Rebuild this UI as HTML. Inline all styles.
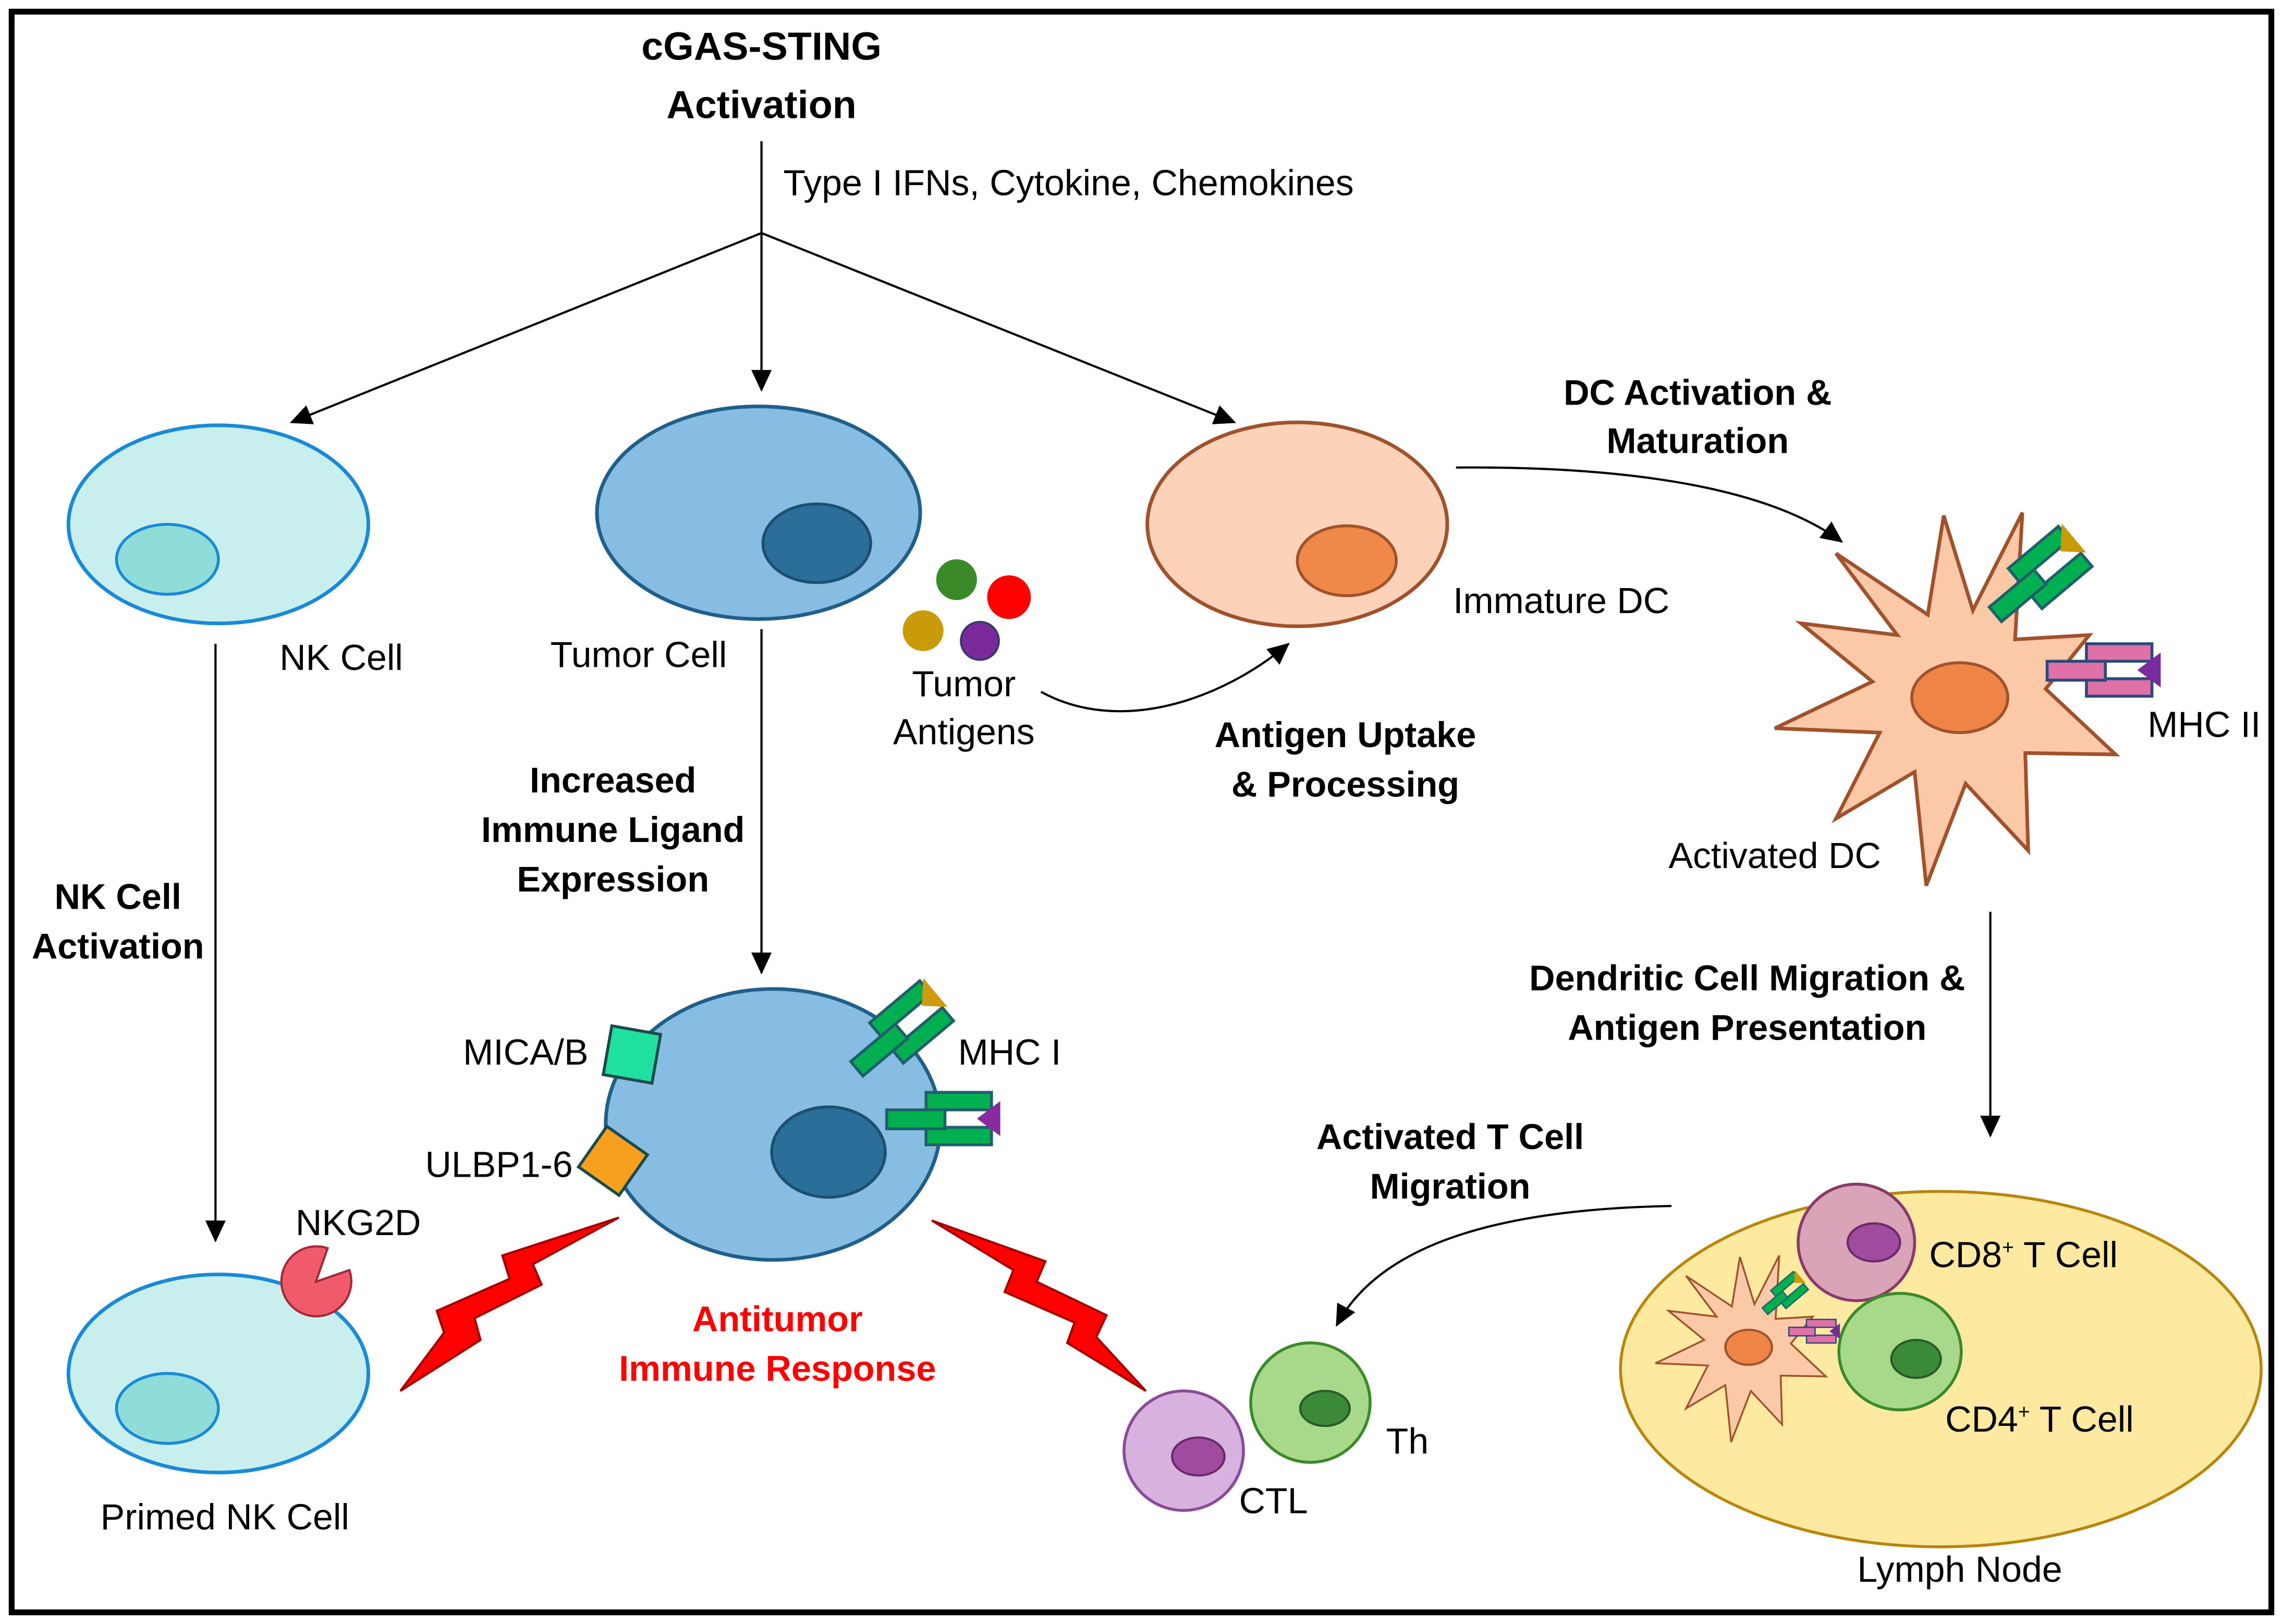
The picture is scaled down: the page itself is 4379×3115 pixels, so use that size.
<!DOCTYPE html>
<html><head><meta charset="utf-8"><style>html,body{margin:0;padding:0;background:#fff}svg{display:block}</style></head>
<body>
<svg width="4379" height="3115" viewBox="0 0 1568 1115" preserveAspectRatio="none" xmlns="http://www.w3.org/2000/svg" font-family="Liberation Sans, sans-serif">
<defs>
<marker id="ar2" markerWidth="16" markerHeight="16" refX="14" refY="8" orient="auto" markerUnits="userSpaceOnUse"><path d="M0,1 L15,8 L0,15 z" fill="#000"/></marker>
<g id="mhcg"><rect x="-25" y="-18" width="45" height="12" fill="#00b050" stroke="#1f5f6a" stroke-width="2"/><rect x="-25" y="6" width="45" height="12" fill="#00b050" stroke="#1f5f6a" stroke-width="2"/><rect x="-52" y="-6" width="40" height="13" fill="#00b050" stroke="#1f5f6a" stroke-width="2"/></g>
<g id="mhcp"><rect x="-25" y="-18" width="45" height="12" fill="#e070a8" stroke="#2a4a7a" stroke-width="2"/><rect x="-25" y="6" width="45" height="12" fill="#e070a8" stroke="#2a4a7a" stroke-width="2"/><rect x="-52" y="-6" width="40" height="13" fill="#e070a8" stroke="#2a4a7a" stroke-width="2"/></g>
<polygon id="star" points="44,-126 39,-39 90,-42 60,-5 108,40 46,39 48,106 5,60 -22,130 -30,52 -84,84 -54,25 -126,22 -59,-10 -108,-50 -42,-42 -84,-98 -21,-56 -10,-124 10,-59" fill="#fbc8a8" stroke="#a0522d" stroke-width="2.5"/>
</defs>
<rect x="8" y="8" width="1552" height="1099" fill="#fff" stroke="#000" stroke-width="4"/>
<g font-size="25">
<text x="523" y="41" text-anchor="middle" font-weight="bold" font-size="27">cGAS-STING</text>
<text x="523" y="81" text-anchor="middle" font-weight="bold" font-size="27">Activation</text>
<line x1="523" y1="97" x2="523" y2="160" stroke="#000" stroke-width="1.5"/>
<text x="538" y="134">Type I IFNs, Cytokine, Chemokines</text>
<line x1="523" y1="160" x2="200" y2="290" stroke="#000" stroke-width="1.5" marker-end="url(#ar2)"/>
<line x1="523" y1="160" x2="523" y2="268" stroke="#000" stroke-width="1.5" marker-end="url(#ar2)"/>
<line x1="523" y1="160" x2="848" y2="290" stroke="#000" stroke-width="1.5" marker-end="url(#ar2)"/>

<ellipse cx="150" cy="360" rx="103" ry="68" fill="#c8eeee" stroke="#1a8ad8" stroke-width="2.5"/>
<ellipse cx="115" cy="384" rx="35" ry="24" fill="#8fdcd8" stroke="#1a8ad8" stroke-width="2"/>
<text x="192" y="460">NK Cell</text>
<line x1="148" y1="442" x2="148" y2="852" stroke="#000" stroke-width="1.5" marker-end="url(#ar2)"/>
<text x="81" y="624" text-anchor="middle" font-weight="bold" font-size="24.5">NK Cell</text>
<text x="81" y="658" text-anchor="middle" font-weight="bold" font-size="24.5">Activation</text>

<ellipse cx="521" cy="352" rx="111" ry="73" fill="#88bde3" stroke="#1f5f8a" stroke-width="2.5"/>
<ellipse cx="561" cy="373" rx="37" ry="27" fill="#2a6f99" stroke="#1f4f70" stroke-width="2"/>
<text x="378" y="458">Tumor Cell</text>
<line x1="523" y1="432" x2="523" y2="668" stroke="#000" stroke-width="1.5" marker-end="url(#ar2)"/>
<text x="421" y="544" text-anchor="middle" font-weight="bold" font-size="24.5">Increased</text>
<text x="421" y="578" text-anchor="middle" font-weight="bold" font-size="24.5">Immune Ligand</text>
<text x="421" y="612" text-anchor="middle" font-weight="bold" font-size="24.5">Expression</text>

<circle cx="657" cy="398" r="14" fill="#3a8a2a"/>
<circle cx="693" cy="410" r="15" fill="#ff0000"/>
<circle cx="634" cy="433" r="14" fill="#c99a0a"/>
<circle cx="673" cy="440" r="13" fill="#7a2a9a" stroke="#3a3a6a" stroke-width="1.5"/>
<text x="662" y="478" text-anchor="middle">Tumor</text>
<text x="662" y="511" text-anchor="middle">Antigens</text>
<path d="M715,475 C770,505 840,480 885,442" fill="none" stroke="#000" stroke-width="1.5" marker-end="url(#ar2)"/>
<text x="924" y="513" text-anchor="middle" font-weight="bold" font-size="24.5">Antigen Uptake</text>
<text x="924" y="547" text-anchor="middle" font-weight="bold" font-size="24.5">&amp; Processing</text>

<ellipse cx="891" cy="360" rx="103" ry="70" fill="#fcd3b8" stroke="#a0522d" stroke-width="2.5"/>
<ellipse cx="925" cy="385" rx="34" ry="24" fill="#f0884a" stroke="#a0522d" stroke-width="2"/>
<text x="998" y="421">Immature DC</text>
<text x="1166" y="278" text-anchor="middle" font-weight="bold" font-size="24.5">DC Activation &amp;</text>
<text x="1166" y="311" text-anchor="middle" font-weight="bold" font-size="24.5">Maturation</text>
<path d="M1000,321 C1120,320 1215,335 1265,372" fill="none" stroke="#000" stroke-width="1.5" marker-end="url(#ar2)"/>

<use href="#star" transform="translate(1345,478)"/>
<ellipse cx="1346" cy="479" rx="33" ry="24" fill="#ee8445" stroke="#a0522d" stroke-width="2"/>
<g transform="translate(1410,388) rotate(-40)"><use href="#mhcg"/><polygon points="10,-4 23,-18 23,8" fill="#c99a0a"/></g>
<g transform="translate(1458,460)"><use href="#mhcp"/><polygon points="10,0 26,-12 26,12" fill="#7a2a9a"/></g>
<text x="1475" y="506">MHC II</text>
<text x="1146" y="596">Activated DC</text>
<line x1="1367" y1="626" x2="1367" y2="780" stroke="#000" stroke-width="1.5" marker-end="url(#ar2)"/>
<text x="1200" y="680" text-anchor="middle" font-weight="bold" font-size="24.5">Dendritic Cell Migration &amp;</text>
<text x="1200" y="714" text-anchor="middle" font-weight="bold" font-size="24.5">Antigen Presentation</text>

<ellipse cx="1333" cy="940" rx="220" ry="122" fill="#fde9a0" stroke="#b8860b" stroke-width="2"/>
<circle cx="1275" cy="853" r="40" fill="#d9a3b8" stroke="#8a3a6a" stroke-width="2"/>
<ellipse cx="1287" cy="853" rx="18" ry="13" fill="#a04aa0" stroke="#6a2a6a" stroke-width="1.5"/>
<ellipse cx="1305" cy="928" rx="42" ry="40" fill="#a8d98a" stroke="#3a8a2a" stroke-width="2"/>
<ellipse cx="1316" cy="933" rx="17" ry="13" fill="#3a8a3a" stroke="#2a5a2a" stroke-width="1.5"/>
<use href="#star" transform="translate(1200,925) scale(0.5)"/>
<ellipse cx="1201" cy="925" rx="16" ry="12" fill="#ee8445" stroke="#a0522d" stroke-width="1.5"/>
<g transform="translate(1230,885) rotate(-40) scale(0.45)"><use href="#mhcg"/><polygon points="10,-4 23,-18 23,8" fill="#c99a0a"/></g>
<g transform="translate(1252,914) scale(0.45)"><use href="#mhcp"/><polygon points="10,0 26,-12 26,12" fill="#7a2a9a"/></g>
<text x="1325" y="870">CD8<tspan font-size="14" dy="-9">+</tspan><tspan dy="9"> T Cell</tspan></text>
<text x="1336" y="983">CD4<tspan font-size="14" dy="-9">+</tspan><tspan dy="9"> T Cell</tspan></text>
<text x="1346" y="1086" text-anchor="middle">Lymph Node</text>

<text x="996" y="789" text-anchor="middle" font-weight="bold" font-size="24.5">Activated T Cell</text>
<text x="996" y="823" text-anchor="middle" font-weight="bold" font-size="24.5">Migration</text>
<path d="M1148,828 C1040,830 950,850 918,910" fill="none" stroke="#000" stroke-width="1.5" marker-end="url(#ar2)"/>

<circle cx="900" cy="963" r="41" fill="#a8d98a" stroke="#3a8a2a" stroke-width="2"/>
<ellipse cx="910" cy="967" rx="17" ry="12" fill="#3a8a3a" stroke="#2a5a2a" stroke-width="1.5"/>
<circle cx="813" cy="996" r="41" fill="#d8b2de" stroke="#8a4a9a" stroke-width="2"/>
<ellipse cx="823" cy="1000" rx="18" ry="13" fill="#a04aa0" stroke="#6a2a6a" stroke-width="1.5"/>
<text x="952" y="998">Th</text>
<text x="851" y="1039">CTL</text>

<ellipse cx="531" cy="772" rx="115" ry="93" fill="#88bde3" stroke="#1f5f8a" stroke-width="2.5"/>
<ellipse cx="569" cy="791" rx="39" ry="31" fill="#2a6f99" stroke="#1f4f70" stroke-width="2"/>
<g transform="translate(628,700) rotate(-40)"><use href="#mhcg"/><polygon points="10,-4 23,-18 23,8" fill="#d09a10"/></g>
<g transform="translate(661,768)"><use href="#mhcg"/><polygon points="10,0 26,-12 26,12" fill="#8a2aa0"/></g>
<text x="658" y="731">MHC I</text>
<rect x="-17" y="-17" width="34" height="34" fill="#20e0a0" stroke="#1a4a4a" stroke-width="2" transform="translate(434,724) rotate(10)"/>
<text x="318" y="731">MICA/B</text>
<rect x="-17" y="-17" width="34" height="34" fill="#f7a020" stroke="#1a4a4a" stroke-width="2" transform="translate(421,797) rotate(35)"/>
<text x="292" y="808">ULBP1-6</text>

<ellipse cx="150" cy="943" rx="103" ry="68" fill="#c8eeee" stroke="#1a8ad8" stroke-width="2.5"/>
<ellipse cx="115" cy="967" rx="35" ry="24" fill="#8fdcd8" stroke="#1a8ad8" stroke-width="2"/>
<path d="M217,880 L240,872 A24,24 0 1 1 225,857 Z" fill="#f05a6a" stroke="#a02a3a" stroke-width="1.5"/>
<text x="203" y="848">NKG2D</text>
<text x="69" y="1050">Primed NK Cell</text>

<polygon points="425,836 345,862 350,878 300,900 305,915 275,955 330,920 326,905 372,882 366,868" fill="#ff0000" stroke="#a00000" stroke-width="1.5"/>
<polygon points="640,838 718,866 712,880 760,903 753,918 787,955 733,922 738,908 690,887 696,872" fill="#ff0000" stroke="#a00000" stroke-width="1.5"/>
<text x="534" y="914" text-anchor="middle" font-weight="bold" font-size="24.5" fill="#ff0000">Antitumor</text>
<text x="534" y="948" text-anchor="middle" font-weight="bold" font-size="24.5" fill="#ff0000">Immune Response</text>
</g>
</svg>
</body></html>
